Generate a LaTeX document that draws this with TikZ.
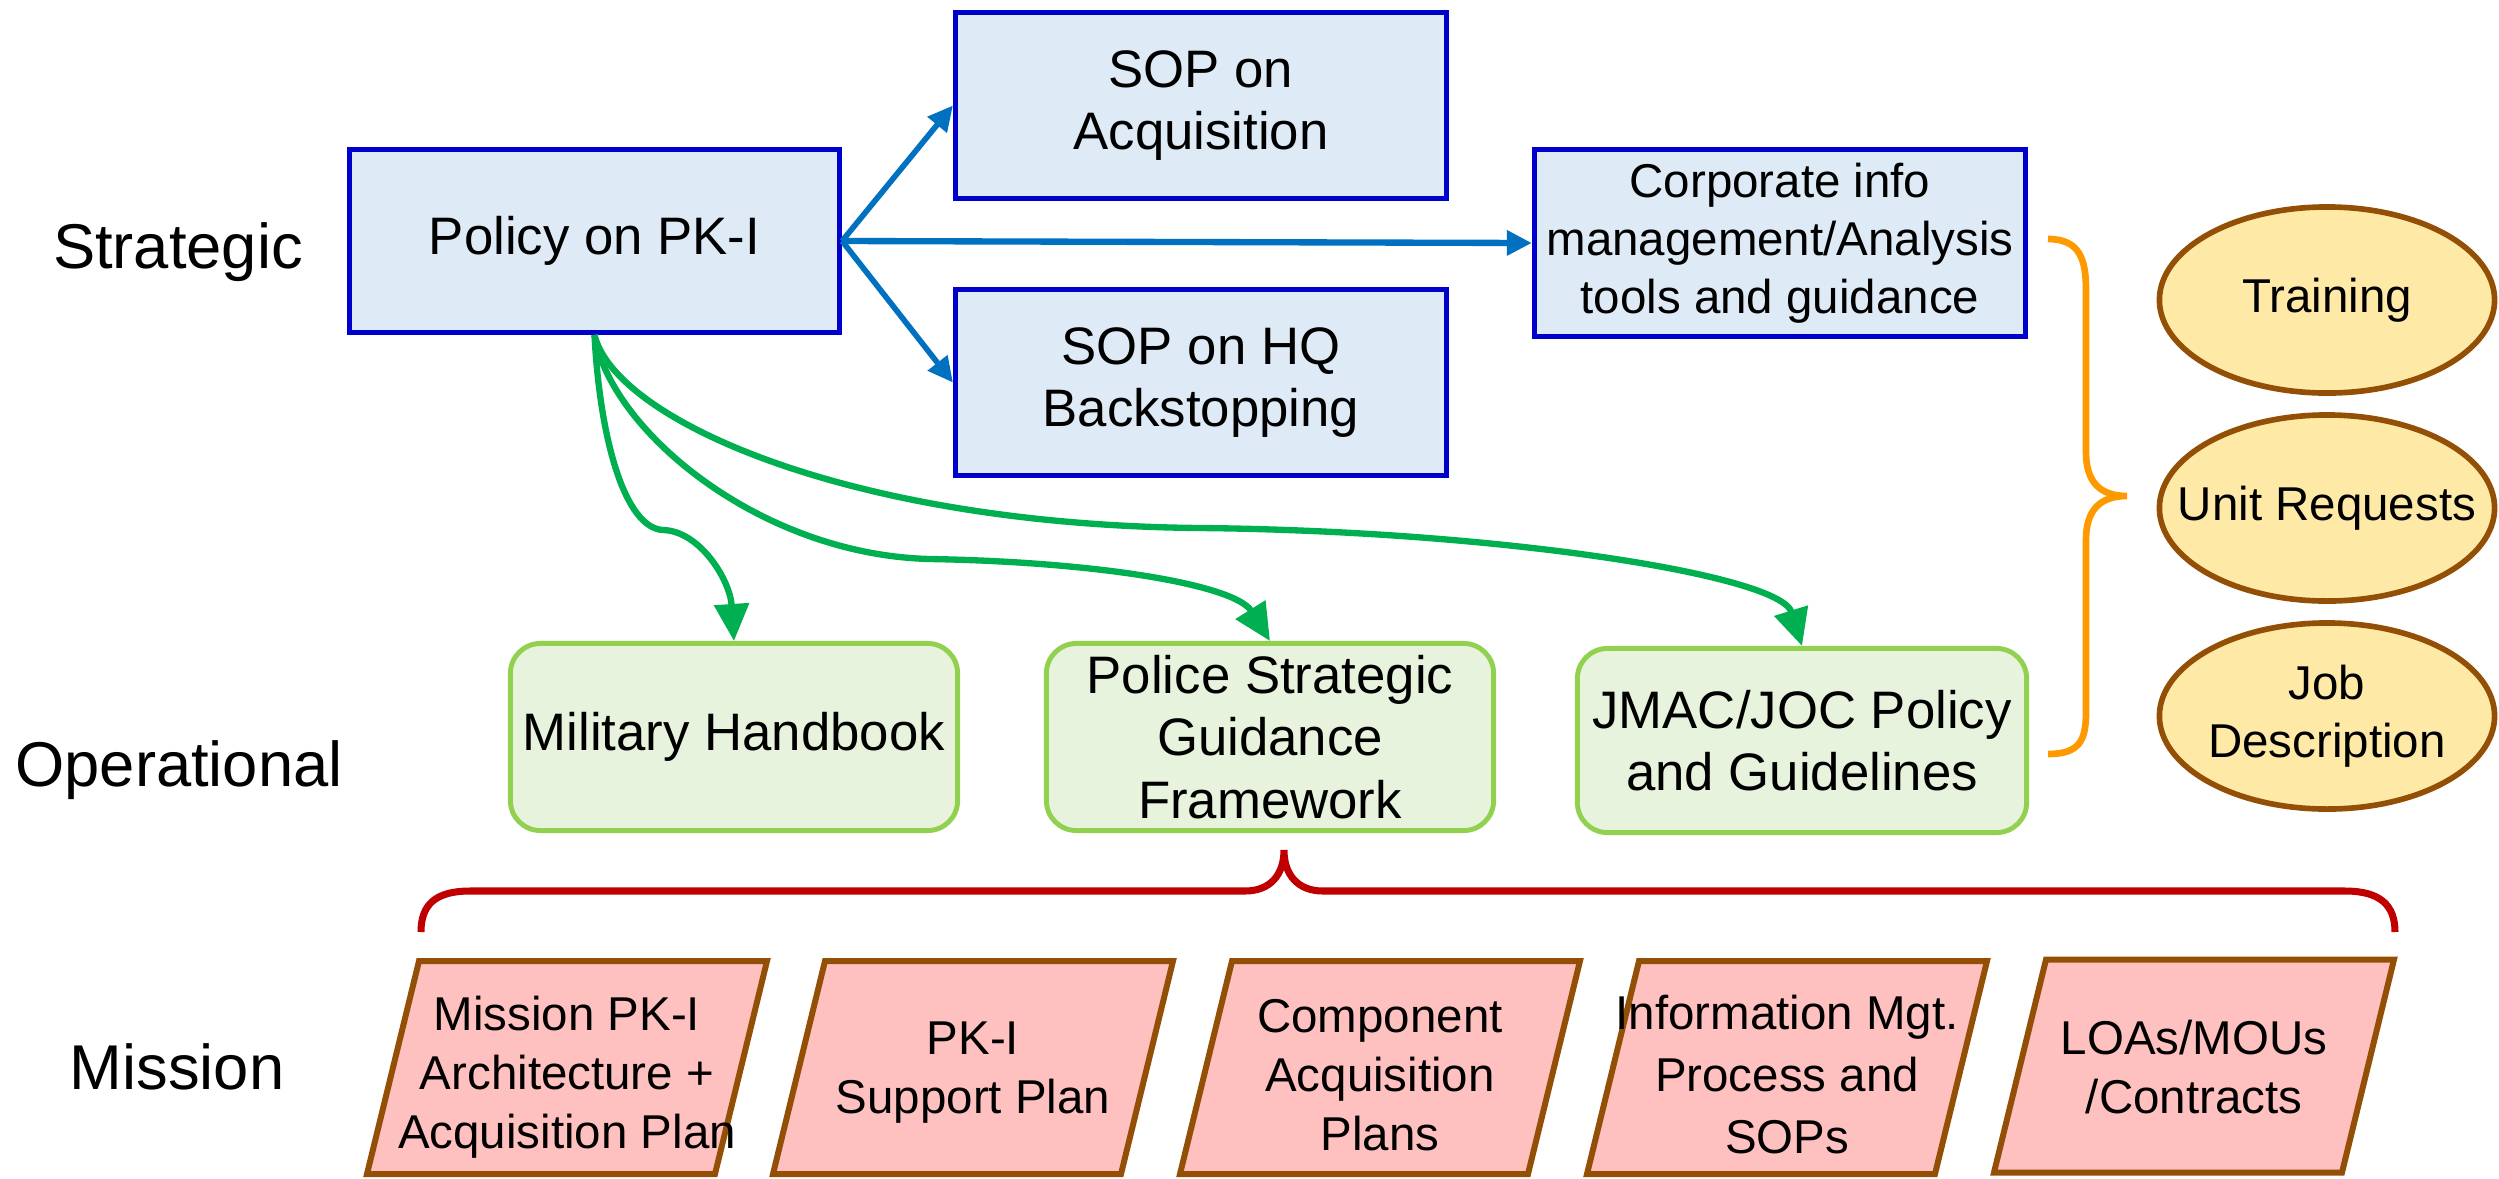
\documentclass[tikz,border=0pt]{standalone}
\usepackage{fontspec}
\setmainfont{Liberation Sans}
\usetikzlibrary{arrows.meta,shapes.geometric}
\definecolor{boxblue}{HTML}{DEEBF7}
\definecolor{borderblue}{HTML}{0000CC}
\definecolor{arrowblue}{HTML}{0070C0}
\definecolor{arrowgreen}{HTML}{00B050}
\definecolor{boxgreen}{HTML}{E7F3DC}
\definecolor{bordergreen}{HTML}{92D050}
\definecolor{braceorange}{HTML}{FF9900}
\definecolor{ovalfill}{HTML}{FEE9A6}
\definecolor{brownline}{HTML}{944F06}
\definecolor{parafill}{HTML}{FFC0C0}
\definecolor{bracered}{HTML}{C00000}
\begin{document}
\begin{tikzpicture}[x=0.01cm,y=-0.01cm,
  bluebox/.style={draw=borderblue, fill=boxblue, line width=1.4pt, minimum width=4.91cm, minimum height=1.86cm, inner sep=0pt, align=center, font=\fontsize{15}{17.5}\selectfont},
  greenbox/.style={draw=bordergreen, fill=boxgreen, line width=1.4pt, rounded corners=0.3cm, minimum width=4.47cm, minimum height=1.87cm, inner sep=0pt, align=center, font=\fontsize{15}{17.8}\selectfont},
  oval/.style={ellipse, draw=brownline, fill=ovalfill, line width=1.6pt, minimum width=3.35cm, minimum height=1.86cm, inner xsep=-0.4cm, inner ysep=0pt, align=center, font=\fontsize{13.5}{16.4}\selectfont},
  parashape/.style={draw=brownline, fill=parafill, line width=1.7pt, line join=miter},
  paratext/.style={inner sep=0pt, align=center, font=\fontsize{13.5}{16.8}\selectfont},
  rowlabel/.style={font=\fontsize{18}{21}\selectfont, inner sep=0pt},
  bluearrow/.style={draw=arrowblue, line width=1.6pt, -{Triangle[length=0.25cm,width=0.24cm]}},
  greenarrow/.style={draw=arrowgreen, line width=1.8pt, -{Triangle[length=0.37cm,width=0.34cm]}},
  bracestyle/.style={line width=1.9pt}
]
\useasboundingbox (0,0) rectangle (2499,1178);

% row labels
\node[rowlabel] (lstrat) at (178,252) {Strategic};
\node[rowlabel] (loper) at (179,770) {Operational};
\node[rowlabel] (lmiss) at (177,1067) {Mission};

% strategic boxes
\node[bluebox, minimum width=4.90cm, minimum height=1.83cm] (policy) at (594.5,241) {Policy on PK-I};
\node[bluebox] (sopacq) at (1201,105.5) {SOP on\\Acquisition};
\node[bluebox] (sophq) at (1201,382.5) {SOP on HQ\\Backstopping};
\node[bluebox, minimum height=1.87cm, font=\fontsize{13.5}{16.5}\selectfont] (corp) at (1780,243) {Corporate info\\management/Analysis\\tools and guidance};

% operational boxes
\node[greenbox] (mil) at (734,737) {Military Handbook};
\node[greenbox] (police) at (1270,737) {Police Strategic\\Guidance\\Framework};
\node[greenbox, minimum width=4.49cm, minimum height=1.84cm] (jmac) at (1802,740.5) {JMAC/JOC Policy\\and Guidelines};

% ovals
\node[oval] (train) at (2327,300) {Training};
\node[oval] (unit) at (2327,508) {Unit Requests};
\node[oval] (job) at (2327,716) {Job\\Description};

% mission parallelograms (shapes drawn directly, text as nodes)
\coordinate (c1) at (567,1067.5);
\coordinate (c2) at (973,1067.5);
\coordinate (c3) at (1380,1067.5);
\coordinate (c4) at (1787,1067.5);
\coordinate (c5) at (2194,1066);
\foreach \c in {c1,c2,c3,c4,c5}
  \draw[parashape] (\c) ++(-148,-106.5) -- ++(348,0) -- ++(-52,213) -- ++(-348,0) -- cycle;
\node[paratext] (m1) at ([yshift=-0.1cm]c1) {Mission PK-I\\Architecture +\\Acquisition Plan};
\node[paratext] (m2) at ([yshift=-0.05cm]c2) {PK-I\\Support Plan};
\node[paratext] (m3) at ([yshift=-0.08cm]c3) {Component\\Acquisition\\Plans};
\node[paratext, font=\fontsize{13.5}{17.7}\selectfont] (m4) at ([yshift=-0.07cm]c4) {Information Mgt.\\Process and\\SOPs};
\node[paratext] (m5) at ([yshift=-0.01cm]c5) {LOAs/MOUs\\/Contracts};

% blue arrows
\draw[bluearrow] (policy.east) -- (sopacq.west);
\draw[bluearrow] (policy.east) -- (sophq.west);
\draw[bluearrow, line width=1.8pt] (policy.east) -- (corp.west);

% green arrows
\draw[greenarrow] (policy.south) .. controls (600,440) and (625,528) .. (663,530)
  .. controls (700,531) and (730,580) .. (mil.north);
\draw[greenarrow] (policy.south) .. controls (610,430) and (760,555) .. (930,559)
  .. controls (1100,562) and (1235,585) .. (police.north);
\draw[greenarrow] (policy.south) .. controls (615,420) and (850,525) .. (1200,528)
  .. controls (1500,531) and (1780,575) .. (jmac.north);

% orange brace
\draw[bracestyle, draw=braceorange] (2048,239) .. controls (2080,239) and (2086,260) .. (2086,290)
  -- (2086,452) .. controls (2086,482) and (2100,496) .. (2127,496)
  .. controls (2100,496) and (2086,510) .. (2086,540)
  -- (2086,712) .. controls (2086,740) and (2080,754) .. (2048,754);

% red brace
\draw[bracestyle, line width=2pt, draw=bracered] (421,932) .. controls (421,905) and (435,891) .. (470,891)
  -- (1245,891) .. controls (1270,891) and (1284,875) .. (1284,850)
  .. controls (1284,875) and (1298,891) .. (1323,891)
  -- (2345,891) .. controls (2380,891) and (2395,905) .. (2395,932);
\end{tikzpicture}
\end{document}
